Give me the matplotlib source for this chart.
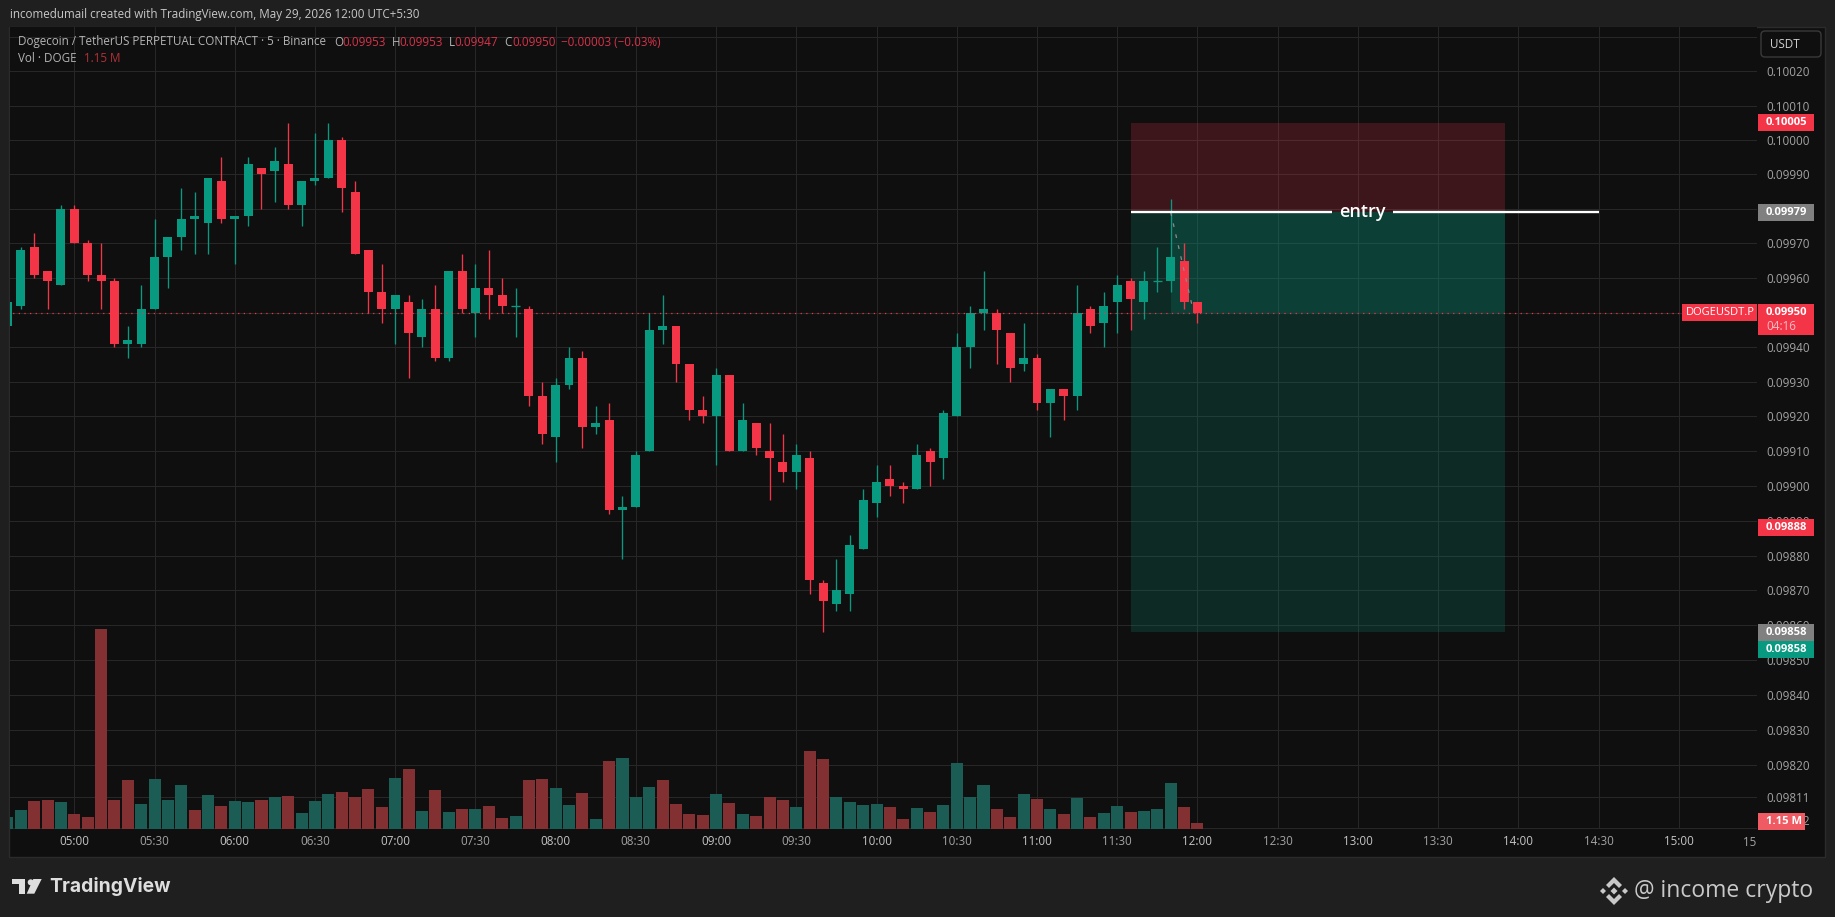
import matplotlib
matplotlib.use('Agg')
import matplotlib.pyplot as plt
from matplotlib.patches import Rectangle, Polygon, Circle, FancyBboxPatch
from matplotlib.ticker import NullLocator

WIDTH, HEIGHT = 1835, 917
TICK = 1e-5
FONT = 'Open Sans'
SIZE = 8.35

# prices in ticks of 0.00001, one 5 minute candle per entry
opens = [9946, 9952, 9969, 9962, 9958, 9980, 9970, 9961, 9959, 9941,
         9941, 9951, 9966, 9972, 9977, 9976, 9988, 9977, 9978, 9992,
         9991, 9993, 9981, 9988, 9989, 10000, 9985, 9968, 9956, 9951,
         9953, 9943, 9951, 9937, 9962, 9950, 9957, 9955, 9952, 9951,
         9926, 9914, 9929, 9937, 9917, 9919, 9893, 9894, 9910, 9945,
         9946, 9935, 9922, 9920, 9932, 9910, 9918, 9910, 9907, 9904,
         9908, 9872, 9866, 9869, 9882, 9895, 9902, 9900, 9899, 9910,
         9908, 9920, 9940, 9950, 9950, 9944, 9935, 9937, 9924, 9928,
         9926, 9951, 9947, 9953, 9959, 9953, 9959, 9959, 9965, 9953]
highs = [9953, 9969, 9973, 9962, 9981, 9981, 9971, 9970, 9960, 9946,
         9958, 9977, 9972, 9986, 9985, 9989, 9995, 9978, 9995, 9992,
         9998, 10005, 9988, 10002, 10005, 10001, 9988, 9968, 9964, 9955,
         9955, 9954, 9958, 9962, 9967, 9964, 9968, 9960, 9957, 9952,
         9930, 9931, 9940, 9939, 9923, 9924, 9897, 9910, 9950, 9955,
         9946, 9935, 9926, 9934, 9932, 9924, 9918, 9918, 9915, 9912,
         9910, 9873, 9879, 9886, 9899, 9906, 9906, 9901, 9912, 9911,
         9922, 9944, 9952, 9962, 9951, 9944, 9947, 9938, 9928, 9928,
         9958, 9952, 9956, 9961, 9960, 9962, 9969, 9983, 9970, 9953]
lows = [9946, 9951, 9960, 9951, 9958, 9970, 9959, 9951, 9940, 9937,
        9940, 9951, 9957, 9968, 9967, 9967, 9976, 9964, 9975, 9980,
        9982, 9980, 9975, 9987, 9989, 9979, 9967, 9950, 9947, 9941,
        9931, 9940, 9936, 9936, 9950, 9943, 9948, 9950, 9943, 9923,
        9912, 9907, 9928, 9911, 9915, 9892, 9879, 9894, 9910, 9941,
        9930, 9919, 9918, 9906, 9910, 9910, 9909, 9896, 9901, 9899,
        9869, 9858, 9864, 9864, 9882, 9891, 9897, 9895, 9899, 9900,
        9902, 9920, 9934, 9945, 9935, 9930, 9933, 9922, 9914, 9919,
        9922, 9944, 9940, 9944, 9945, 9948, 9956, 9956, 9951, 9947]
closes = [9953, 9968, 9961, 9959, 9980, 9970, 9961, 9959, 9941, 9942,
          9951, 9966, 9972, 9977, 9978, 9989, 9977, 9978, 9993, 9990,
          9994, 9981, 9988, 9989, 10000, 9986, 9967, 9956, 9951, 9955,
          9944, 9951, 9937, 9962, 9951, 9957, 9955, 9952, 9952, 9926,
          9915, 9929, 9937, 9917, 9918, 9893, 9894, 9909, 9945, 9946,
          9935, 9922, 9920, 9932, 9910, 9919, 9911, 9908, 9904, 9909,
          9873, 9867, 9870, 9883, 9896, 9901, 9900, 9899, 9909, 9907,
          9921, 9940, 9950, 9951, 9945, 9934, 9937, 9924, 9928, 9926,
          9950, 9946, 9952, 9958, 9954, 9959, 9959, 9966, 9953, 9950]

# volume in millions of DOGE, u / d is the colour of the bar
volumes = [2.3, 3.6, 5.4, 5.6, 5.2, 2.9, 2.3, 38.3, 5.6, 9.4,
           4.8, 9.6, 5.6, 8.4, 3.6, 6.5, 4.4, 5.4, 5.2, 5.6,
           6.1, 6.3, 3.1, 5.4, 6.7, 7.1, 6.1, 7.7, 4.2, 9.8,
           11.5, 3.5, 7.5, 3.3, 3.8, 3.8, 4.4, 2.1, 2.5, 9.4,
           9.6, 7.9, 4.6, 6.9, 1.9, 13.0, 13.6, 6.1, 8.1, 9.4,
           4.8, 2.9, 2.7, 6.7, 5.0, 2.9, 2.5, 6.1, 5.6, 4.2,
           15.0, 13.4, 6.1, 5.2, 4.6, 4.8, 4.2, 1.9, 4.0, 3.3,
           4.6, 12.7, 6.1, 8.4, 3.8, 2.3, 6.7, 5.8, 3.8, 2.9,
           5.9, 2.3, 3.1, 4.4, 3.3, 3.5, 3.8, 8.8, 4.2, 1.15]
volume_dirs = ('uuddu' + 'ddddd' + 'uuuududuud' + 'uduuuddddu' + 'dudududdud'
               + 'duududuuud' + 'dddududddu' + 'dduuuuddud' + 'uuuuddudud'
               + 'uduuduuudd')

time_labels = ['05:00', '05:30', '06:00', '06:30', '07:00', '07:30', '08:00',
               '08:30', '09:00', '09:30', '10:00', '10:30', '11:00', '11:30',
               '12:00', '12:30', '13:00', '13:30', '14:00', '14:30', '15:00']
first_label_bar = 5
bars_per_label = 6

price_ticks = list(range(10030, 9810, -10)) + [9811, 9802]

last_price = 9950
stop_price = 10005
entry_price = 9979
target_price = 9858
alert_price = 9888
tool_start, tool_end, entry_end = 84, 112, 119
touch_bar, last_bar = 87, 89

BG = '#1f1f1f'
PANE = '#0f0f0f'
GRID = '#272727'
UP = '#089981'
DOWN = '#f43548'
VOL_UP = '#1b5c55'
VOL_DOWN = '#833032'
AXIS_TEXT = '#a3a3a3'

fig = plt.figure(figsize=(WIDTH / 100, HEIGHT / 100), dpi=100, facecolor=BG)

# pixel space layers behind and above the chart
back = fig.add_axes([0, 0, 1, 1], zorder=-1)
back.set_xlim(0, WIDTH)
back.set_ylim(HEIGHT, 0)
back.axis('off')
back.add_patch(Rectangle((9, 27), 1816, 830, facecolor=PANE, edgecolor='#2b2b2b', lw=1))

top = fig.add_axes([0, 0, 1, 1], zorder=5)
top.set_xlim(0, WIDTH)
top.set_ylim(HEIGHT, 0)
top.axis('off')

# main pane, log price scale
left, right, upper, lower = 10, 1757, 27, 829
ax = fig.add_axes([left / WIDTH, (HEIGHT - lower) / HEIGHT,
                   (right - left) / WIDTH, (lower - upper) / HEIGHT], zorder=1)
ax.set_facecolor(PANE)
for spine in ax.spines.values():
    spine.set_visible(False)
ax.set_yscale('log')
ax.set_ylim(0.098018, 0.100329)
ax.set_xlim(0.191, 130.85)

# long position tool
ax.fill_between([tool_start, tool_end], entry_price * TICK, stop_price * TICK,
                color=DOWN, alpha=0.2, lw=0, zorder=1)
ax.fill_between([tool_start, tool_end], target_price * TICK, entry_price * TICK,
                color=UP, alpha=0.2, lw=0, zorder=1)
ax.fill_between([touch_bar, tool_end], last_price * TICK, entry_price * TICK,
                color=UP, alpha=0.2, lw=0, zorder=1)

# candles
for i in range(len(opens)):
    color = UP if closes[i] >= opens[i] else DOWN
    ax.vlines(i, lows[i] * TICK, highs[i] * TICK, color=color, lw=0.95, zorder=3)
    body_low = min(opens[i], closes[i]) * TICK
    body_high = max(opens[i], closes[i]) * TICK
    if opens[i] == closes[i]:
        ax.hlines(body_low, i - 0.33, i + 0.33, color=color, lw=0.95, zorder=3)
    else:
        ax.bar(i, body_high - body_low, bottom=body_low, width=0.67, color=color,
               lw=0, zorder=3)

# last price line and the dashed move back from the entry touch
ax.plot([0, 125], [last_price * TICK] * 2, color=DOWN, lw=0.9,
        linestyle=(0, (1, 3.5)), zorder=4)
ax.plot([touch_bar, last_bar - 0.4], [entry_price * TICK, (last_price + 2) * TICK],
        color='#8a8a8a', lw=0.9, linestyle=(0, (3, 6)), zorder=4)

# entry line with its label
ax.plot([tool_start, 99.1], [entry_price * TICK] * 2, color='white', lw=1.7, zorder=5,
        solid_capstyle='butt')
ax.plot([103.6, entry_end], [entry_price * TICK] * 2, color='white', lw=1.7, zorder=5,
        solid_capstyle='butt')
ax.text(101.35, entry_price * TICK, 'entry', color='white', fontsize=13, family=FONT,
        weight=600, ha='center', va='center', zorder=5)

# volume pane, twinx moves the price ticks so they are set up after it
vol_ax = ax.twinx()
vol_ax.set_ylim(0, 153.7)
vol_ax.axis('off')
vol_colors = [VOL_UP if d == 'u' else VOL_DOWN for d in volume_dirs]
vol_ax.bar(range(len(volumes)), volumes, width=0.9, color=vol_colors, lw=0)

ax.yaxis.tick_right()
ax.set_yticks([t * TICK for t in price_ticks])
ax.set_yticklabels(['' if t == 10030 else f'{t * TICK:.5f}' for t in price_ticks],
                   fontsize=SIZE, color=AXIS_TEXT, family=FONT)
ax.yaxis.set_minor_locator(NullLocator())
# the lowest label sits inside the pane, mostly under the volume tag
ax.get_yticklabels()[-1].set_verticalalignment('bottom')
xticks = [first_label_bar + n * bars_per_label for n in range(len(time_labels))]
ax.set_xticks(xticks)
ax.set_xticklabels(time_labels, fontsize=SIZE, color=AXIS_TEXT, family=FONT)
for label, text in zip(ax.get_xticklabels(), time_labels):
    if text.endswith(':00'):
        label.set_color('#c4c4c4')
ax.tick_params(axis='both', length=0)
ax.tick_params(axis='y', pad=6.5)
ax.tick_params(axis='x', pad=4.5)
ax.grid(True, color=GRID, lw=0.75)
ax.set_axisbelow(True)

fig.canvas.draw()


def price_y(price):
    return HEIGHT - ax.transData.transform((1, price * TICK))[1]


def tag(y, text, color, x0=1758, x1=1814, height=17):
    top.add_patch(Rectangle((x0, y - height / 2), x1 - x0, height, facecolor=color, lw=0))
    top.text(1766, y, text, color='white', fontsize=8.1, family=FONT, weight='bold',
             ha='left', va='center')


tag(price_y(stop_price), '0.10005', DOWN)
tag(price_y(entry_price), '0.09979', '#808080')
tag(price_y(alert_price), '0.09888', DOWN)
tag(price_y(target_price), '0.09858', '#808080')
tag(price_y(target_price) + 17, '0.09858', UP)
tag(821, '1.15 M', '#f05a62', x1=1805)

y_last = price_y(last_price)
top.add_patch(Rectangle((1758, y_last - 8.5), 56, 31, facecolor=DOWN, lw=0))
top.text(1766, y_last, '0.09950', color='white', fontsize=8.1, family=FONT, weight='bold',
         ha='left', va='center')
top.text(1766, y_last + 14, '04:16', color='#f7bcc3', fontsize=SIZE, family=FONT,
         ha='left', va='center')
top.add_patch(Rectangle((1682, y_last - 8.5), 75, 17, facecolor=DOWN, lw=0))
top.text(1686, y_last, 'DOGEUSDT.P', color='white', fontsize=8, family=FONT,
         ha='left', va='center')

top.add_patch(FancyBboxPatch((1763, 33), 56, 22, boxstyle='round,pad=2,rounding_size=4',
                             facecolor=PANE, edgecolor='#3a3a3a', lw=1))
top.text(1770, 44, 'USDT', color='#d0d0d0', fontsize=SIZE, family=FONT, ha='left', va='center')

# the clipped day label at the end of the time axis
top.text(1750, 842.5, '15', color=AXIS_TEXT, fontsize=SIZE, family=FONT, ha='center', va='center')

# header texts
top.text(10, 14.5, 'incomedumail created with TradingView.com, May 29, 2026 12:00 UTC+5:30',
         color='#c8c8c8', fontsize=SIZE, family=FONT, ha='left', va='center')
top.text(18, 42, 'Dogecoin / TetherUS PERPETUAL CONTRACT · 5 · Binance', color='#b4b4b4',
         fontsize=SIZE, family=FONT, ha='left', va='center')
legend_items = [(334, 'O', '#b4b4b4'), (342, '0.09953', '#d9324a'), (392, 'H', '#b4b4b4'),
                (399.5, '0.09953', '#d9324a'), (449, 'L', '#b4b4b4'), (454.5, '0.09947', '#d9324a'),
                (504, 'C', '#b4b4b4'), (512, '0.09950', '#d9324a'),
                (561, '−0.00003 (−0.03%)', '#d9324a')]
for x, text, color in legend_items:
    top.text(x, 42, text, color=color, fontsize=SIZE, family=FONT, ha='left', va='center')
top.text(18, 59, 'Vol · DOGE', color='#b4b4b4', fontsize=SIZE, family=FONT, ha='left', va='center')
top.text(83.5, 59, '1.15 M', color='#b43038', fontsize=SIZE, family=FONT, ha='left', va='center')

# TradingView mark and wordmark
MARK = '#dedede'
top.add_patch(Polygon([(12, 879), (25.3, 879), (25.3, 893.7), (19, 893.7), (19, 884.3), (12, 884.3)],
                      facecolor=MARK, lw=0))
top.add_patch(Circle((30.7, 882.3), 3, facecolor=MARK, lw=0))
top.add_patch(Polygon([(33.3, 879), (41.7, 879), (34.3, 893.7), (26.7, 893.7)], facecolor=MARK, lw=0))
top.text(49, 886, 'TradingView', color=MARK, fontsize=13.9, family='Inter', weight='bold',
         ha='left', va='center')

# Binance mark and watermark
cx, cy = 1614, 891
BN = '#c9c9c9'
top.add_patch(Polygon([(cx, cy - 14), (cx + 8, cy - 6), (cx + 5, cy - 3), (cx, cy - 8), (cx - 5, cy - 3),
                       (cx - 8, cy - 6)], facecolor=BN, lw=0))
top.add_patch(Polygon([(cx, cy + 14), (cx + 8, cy + 6), (cx + 5, cy + 3), (cx, cy + 8), (cx - 5, cy + 3),
                       (cx - 8, cy + 6)], facecolor=BN, lw=0))
for dx in (-11, 11):
    top.add_patch(Polygon([(cx + dx - 3, cy), (cx + dx, cy - 3), (cx + dx + 3, cy), (cx + dx, cy + 3)],
                          facecolor=BN, lw=0))
top.add_patch(Polygon([(cx - 3.5, cy), (cx, cy - 3.5), (cx + 3.5, cy), (cx, cy + 3.5)],
                      facecolor=BN, lw=0))
top.text(1634, 891, '@ income crypto', color=BN, fontsize=16.5, family=FONT,
         ha='left', va='center')

fig.savefig('out.png', dpi=100, facecolor=BG)
